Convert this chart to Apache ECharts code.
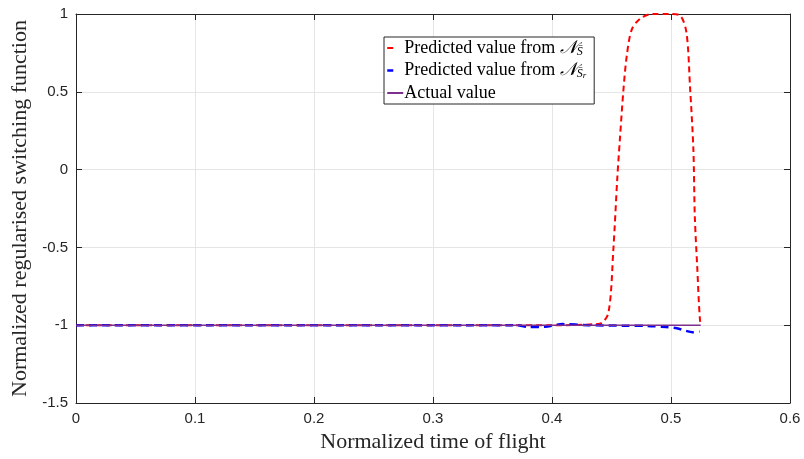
<!DOCTYPE html>
<html><head><meta charset="utf-8">
<script src="https://cdn.jsdelivr.net/npm/echarts@6/dist/echarts.min.js"></script>
<style>html,body{margin:0;padding:0;background:#fff}#c{width:804px;height:459px}</style>
</head><body><div id="c"></div>
<script>
const xTicks = [0, 0.1, 0.2, 0.3, 0.4, 0.5, 0.6];
const yTicks = [-1.5, -1, -0.5, 0, 0.5, 1];

const redX = [0, 0.1, 0.2, 0.3, 0.4, 0.44, 0.4474, 0.4515, 0.4549, 0.457, 0.460, 0.4628, 0.467, 0.474, 0.4837, 0.499, 0.5076, 0.513, 0.516, 0.5188, 0.520, 0.522, 0.5244, 0.526];
const redY = [-1, -1, -1, -1, -1, -0.99, -0.92, -0.52, -0.05, 0.19, 0.51, 0.73, 0.90, 0.97, 1.0, 1.0, 0.99, 0.88, 0.53, 0.13, -0.30, -0.62, -0.97, -1.0];

const blueX = [0, 0.1, 0.2, 0.3, 0.37, 0.38, 0.394, 0.409, 0.43, 0.46, 0.48, 0.496, 0.505, 0.512, 0.518, 0.524];
const blueY = [-1, -1, -1, -1, -1, -1.012, -1.01, -0.993, -1.0, -1.003, -1.005, -1.012, -1.02, -1.035, -1.045, -1.04];

const actX = [0, 0.1, 0.2, 0.3, 0.4, 0.5, 0.525];
const actY = [-1, -1, -1, -1, -1, -1, -1];

const names = ['redS', 'blueS', 'actual'];
const zip = (a, b) => a.map((v, i) => [v, b[i]]);

const chart = echarts.init(document.getElementById('c'));
const tickFont = {fontFamily: 'Liberation Sans, Arial, sans-serif', fontSize: 15, color: '#262626'};
const serif = 'Liberation Serif, DejaVu Serif, serif';
const axisBase = {
  type: 'value',
  axisLine: {show: true, onZero: false, lineStyle: {color: '#262626', width: 1}},
  axisTick: {show: true, inside: true, length: 6, lineStyle: {color: '#262626'}},
  splitLine: {show: true, lineStyle: {color: '#e5e5e5', width: 1}}
};
chart.setOption({
  animation: false,
  grid: {left: 76, right: 14, top: 14, bottom: 56, show: false},
  xAxis: [
    Object.assign({}, axisBase, {min: 0, max: 0.6, interval: 0.1, position: 'bottom',
      axisLabel: Object.assign({margin: 8, formatter: v => String(+v.toFixed(1))}, tickFont),
      name: 'Normalized time of flight', nameLocation: 'middle', nameGap: 27,
      nameTextStyle: {fontFamily: serif, fontSize: 22, color: '#262626'}}),
    Object.assign({}, axisBase, {min: 0, max: 0.6, interval: 0.1, position: 'top', axisLabel: {show: false}, splitLine: {show: false}})
  ],
  yAxis: [
    Object.assign({}, axisBase, {min: -1.5, max: 1, interval: 0.5, position: 'left',
      axisLabel: Object.assign({margin: 8, formatter: v => String(+v.toFixed(1))}, tickFont),
      name: 'Normalized regularised switching function', nameLocation: 'middle', nameGap: 43,
      nameTextStyle: {fontFamily: serif, fontSize: 22, color: '#262626'}}),
    Object.assign({}, axisBase, {min: -1.5, max: 1, interval: 0.5, position: 'right', axisLabel: {show: false}, splitLine: {show: false}})
  ],
  legend: {
    left: 384, top: 37, orient: 'vertical',
    data: [
      {name: names[0], itemStyle: {opacity: 0}, lineStyle: {type: [6, 40], width: 2}},
      {name: names[1], itemStyle: {opacity: 0}, lineStyle: {type: [6, 40], width: 2.5}},
      {name: names[2], itemStyle: {opacity: 0}, lineStyle: {width: 2}}
    ],
    itemWidth: 16, itemHeight: 10, itemGap: 4,
    padding: [2, 8, 2, 2],
    backgroundColor: '#fff', borderColor: '#262626', borderWidth: 1,
    formatter: function (n) {
      if (n === 'redS') return '{t|Predicted value from }{n|𝒩}{s|S̄}';
      if (n === 'blueS') return '{t|Predicted value from }{n|𝒩}{s|S̄}{r|r}';
      return '{t|Actual value}';
    },
    textStyle: {
      fontFamily: serif, fontSize: 18, color: '#000', padding: [0, 0, 0, -4],
      rich: {
        t: {fontFamily: serif, fontSize: 18, color: '#000'},
        n: {fontFamily: 'DejaVu Serif, serif', fontSize: 18, fontStyle: 'italic', color: '#000'},
        s: {fontFamily: serif, fontSize: 12, fontStyle: 'italic', color: '#000', verticalAlign: 'bottom', padding: [7, 0, 0, 0]},
        r: {fontFamily: serif, fontSize: 9, fontStyle: 'italic', color: '#000', verticalAlign: 'bottom', padding: [10, 0, 0, 0]}
      }
    }
  },
  series: [
    {name: 'redS', type: 'line', data: zip(redX, redY), showSymbol: false, symbol: 'none', smooth: 0.3,
      lineStyle: {color: '#ff0000', width: 2, type: [6, 4]}, itemStyle: {color: '#ff0000'}},
    {name: 'blueS', type: 'line', data: zip(blueX, blueY), showSymbol: false, symbol: 'none', smooth: 0.3,
      lineStyle: {color: '#0000ff', width: 2.5, type: [8, 5]}, itemStyle: {color: '#0000ff'}},
    {name: 'actual', type: 'line', data: zip(actX, actY), showSymbol: false, symbol: 'none',
      lineStyle: {color: '#7e2f8e', width: 1.5}, itemStyle: {color: '#7e2f8e'}}
  ]
});
</script></body></html>
